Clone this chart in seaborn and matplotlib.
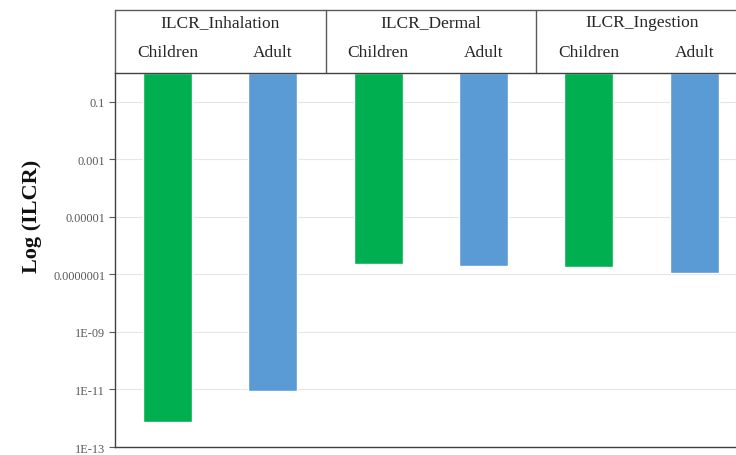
import numpy as np
import pandas as pd
import matplotlib
matplotlib.use("Agg")
import matplotlib.pyplot as plt
import matplotlib.transforms as mtransforms
import seaborn as sns

# values (log axis, bars hang from 1 down)
routes = ["ILCR_Inhalation", "ILCR_Dermal", "ILCR_Ingestion"]
ages = ["Children", "Adult"]
children_vals = [7.6e-13, 2.3e-7, 1.8e-7]
adult_vals = [8.7e-12, 2.0e-7, 1.1e-7]
tick_vals = [1e-1, 1e-3, 1e-5, 1e-7, 1e-9, 1e-11, 1e-13]
tick_labels = ["0.1", "0.001", "0.00001", "0.0000001", "1E-09", "1E-11", "1E-13"]

rows = []
for r, c, a in zip(routes, children_vals, adult_vals):
    rows.append({"bar": r + " Children", "route": r, "age": "Children", "value": c})
    rows.append({"bar": r + " Adult", "route": r, "age": "Adult", "value": a})
df = pd.DataFrame(rows)

sns.set_style("white")
plt.rcParams["font.family"] = ["Liberation Serif", "DejaVu Serif"]

fig = plt.figure(figsize=(7.36, 4.56), dpi=100)
ax = fig.add_axes([0.1562, 0.0175, 0.8587, 0.820])

sns.barplot(data=df, x="bar", y="value", hue="age", order=df["bar"].tolist(),
            palette={"Children": "#00B050", "Adult": "#5B9BD5"}, saturation=1,
            dodge=False, width=0.465, legend=False, ax=ax)

# Excel style: axis crosses at maximum, so bars hang from the top (1)
for p in ax.patches:
    h = p.get_height()
    if np.isnan(h) or h == 0:
        continue
    p.set_y(h)
    p.set_height(1 - h)

ax.set_yscale("log")
ax.set_ylim(1e-13, 1)
ax.set_xlim(-0.5, 5.5)
ax.set_yticks(tick_vals)
ax.set_yticklabels(tick_labels)
ax.yaxis.set_minor_locator(matplotlib.ticker.NullLocator())
ax.set_xticks([])
ax.set_xlabel("")
ax.set_ylabel("Log (ILCR)", fontsize=16, fontweight="bold", color="#111111")
ax.yaxis.set_label_coords(-0.115, 0.62)
ax.tick_params(axis="y", direction="out", length=4, width=0.8, color="#595959",
               labelsize=8.8, labelcolor="#595959", left=True, pad=3)
ax.yaxis.grid(True, color="#e6e6e6", linewidth=0.8)
ax.set_axisbelow(True)
for s in ["left", "bottom", "top"]:
    ax.spines[s].set_color("#404040")
    ax.spines[s].set_linewidth(1.0)
ax.spines["right"].set_visible(False)

# category header above the plot
trans = mtransforms.blended_transform_factory(ax.transData, ax.transAxes)
top = 1.168
line_kw = dict(transform=trans, color="#595959", lw=1.0, clip_on=False)
ax.plot([-0.5, 5.5], [top, top], **line_kw)
for xb in [-0.5, 1.5, 3.5, 5.5]:
    ax.plot([xb, xb], [1.0, top], **line_kw)
for i, r in enumerate(routes):
    ax.text(2 * i + 0.5, 1.137, r, transform=trans, ha="center", va="center",
            fontsize=12.5, color="#262626")
    for j, a in enumerate(ages):
        ax.text(2 * i + j, 1.056, a, transform=trans, ha="center", va="center",
                fontsize=12.5, color="#262626")

fig.savefig("out.png", dpi=100)
